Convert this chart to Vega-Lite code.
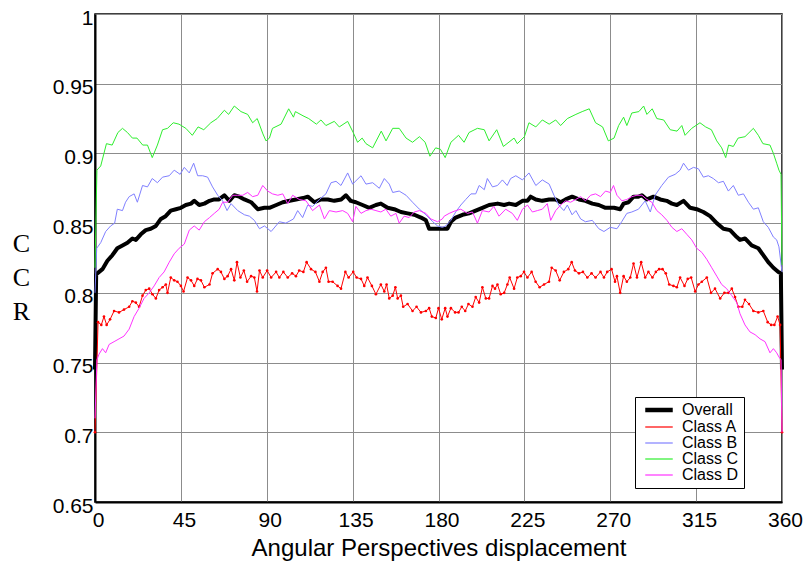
{
"$schema":"https://vega.github.io/schema/vega-lite/v6.json",
"width":687,"height":488,
"autosize":"none",
"padding":{"left":95,"top":14,"right":25,"bottom":63},
"background":"white",
"config":{"font":"Liberation Sans","view":{"stroke":"black","strokeWidth":1.5},
 "axis":{"labelFont":"Liberation Sans","labelFontSize":21,"labelColor":"black","domainColor":"black","domainWidth":2,"ticks":false,"gridColor":"#8c8c8c","gridWidth":1,"gridOpacity":1}},
"datasets":{
"ov":[{"x":0,"y":0.745},{"x":0.6,"y":0.813},{"x":1.2,"y":0.814},{"x":3.9,"y":0.817},{"x":6.5,"y":0.823},{"x":9.1,"y":0.827},{"x":11.7,"y":0.832},{"x":14.4,"y":0.834},{"x":17,"y":0.836},{"x":19.6,"y":0.839},{"x":21.4,"y":0.838},{"x":24,"y":0.842},{"x":26.6,"y":0.845},{"x":29.2,"y":0.846},{"x":31.9,"y":0.848},{"x":34.5,"y":0.853},{"x":37,"y":0.855},{"x":39.7,"y":0.859},{"x":42.4,"y":0.86},{"x":45,"y":0.861},{"x":47.6,"y":0.863},{"x":50.3,"y":0.864},{"x":52,"y":0.866},{"x":54.6,"y":0.863},{"x":57.3,"y":0.864},{"x":60,"y":0.866},{"x":62.5,"y":0.867},{"x":65,"y":0.867},{"x":67.8,"y":0.87},{"x":70.4,"y":0.866},{"x":73,"y":0.87},{"x":75.6,"y":0.869},{"x":78.3,"y":0.867},{"x":81.8,"y":0.865},{"x":85.3,"y":0.86},{"x":88.8,"y":0.861},{"x":91.4,"y":0.861},{"x":95,"y":0.863},{"x":98.4,"y":0.865},{"x":102,"y":0.866},{"x":105.3,"y":0.867},{"x":109,"y":0.868},{"x":111.5,"y":0.869},{"x":115,"y":0.865},{"x":118.4,"y":0.867},{"x":122,"y":0.867},{"x":125.4,"y":0.866},{"x":129,"y":0.867},{"x":131.5,"y":0.87},{"x":134,"y":0.866},{"x":136.7,"y":0.865},{"x":140.2,"y":0.863},{"x":143.7,"y":0.861},{"x":147.2,"y":0.863},{"x":149.8,"y":0.864},{"x":153.3,"y":0.861},{"x":156.8,"y":0.86},{"x":160.3,"y":0.858},{"x":163.8,"y":0.857},{"x":167.3,"y":0.856},{"x":170.8,"y":0.854},{"x":173.4,"y":0.852},{"x":175.1,"y":0.846},{"x":178.6,"y":0.846},{"x":182,"y":0.846},{"x":184.7,"y":0.846},{"x":186.5,"y":0.851},{"x":189,"y":0.854},{"x":192.6,"y":0.856},{"x":196,"y":0.857},{"x":199.5,"y":0.859},{"x":203,"y":0.861},{"x":206.5,"y":0.863},{"x":211,"y":0.864},{"x":214.4,"y":0.863},{"x":217,"y":0.864},{"x":220.5,"y":0.863},{"x":224,"y":0.866},{"x":226.6,"y":0.866},{"x":228.3,"y":0.869},{"x":231,"y":0.867},{"x":234.4,"y":0.866},{"x":238,"y":0.867},{"x":241.4,"y":0.867},{"x":244,"y":0.865},{"x":246.6,"y":0.867},{"x":250,"y":0.869},{"x":253.6,"y":0.867},{"x":257,"y":0.866},{"x":260.6,"y":0.864},{"x":264,"y":0.863},{"x":267.5,"y":0.861},{"x":272,"y":0.861},{"x":275.2,"y":0.86},{"x":277,"y":0.864},{"x":279.6,"y":0.865},{"x":282.2,"y":0.869},{"x":284.8,"y":0.869},{"x":286.6,"y":0.87},{"x":289.2,"y":0.867},{"x":292.7,"y":0.869},{"x":296.2,"y":0.867},{"x":299.6,"y":0.866},{"x":302.3,"y":0.864},{"x":304.9,"y":0.863},{"x":308.4,"y":0.866},{"x":311.9,"y":0.861},{"x":315.3,"y":0.86},{"x":318.8,"y":0.858},{"x":322.3,"y":0.855},{"x":325.8,"y":0.85},{"x":329.3,"y":0.846},{"x":332.8,"y":0.845},{"x":336.3,"y":0.84},{"x":338,"y":0.838},{"x":340.6,"y":0.839},{"x":344.1,"y":0.834},{"x":347.6,"y":0.832},{"x":350.2,"y":0.827},{"x":352.8,"y":0.822},{"x":355.5,"y":0.818},{"x":358.1,"y":0.815},{"x":359.4,"y":0.814},{"x":360,"y":0.745}],
"a":[{"x":0,"y":0.7},{"x":1.6,"y":0.779},{"x":3.3,"y":0.777},{"x":4.7,"y":0.783},{"x":6.1,"y":0.777},{"x":7.9,"y":0.781},{"x":10,"y":0.787},{"x":12.6,"y":0.786},{"x":15.2,"y":0.788},{"x":17.9,"y":0.79},{"x":19.6,"y":0.794},{"x":21.4,"y":0.793},{"x":23.1,"y":0.79},{"x":24.9,"y":0.798},{"x":26.6,"y":0.802},{"x":28.4,"y":0.803},{"x":30.1,"y":0.799},{"x":31.9,"y":0.796},{"x":33.6,"y":0.802},{"x":35.4,"y":0.804},{"x":37.1,"y":0.806},{"x":38,"y":0.8},{"x":39.7,"y":0.811},{"x":41.5,"y":0.809},{"x":43.2,"y":0.808},{"x":45,"y":0.805},{"x":46.4,"y":0.801},{"x":48.5,"y":0.811},{"x":50.3,"y":0.809},{"x":52,"y":0.805},{"x":53.7,"y":0.81},{"x":55.5,"y":0.809},{"x":57.3,"y":0.804},{"x":60,"y":0.806},{"x":61.6,"y":0.814},{"x":64.3,"y":0.817},{"x":66,"y":0.815},{"x":67.8,"y":0.81},{"x":69.5,"y":0.812},{"x":71.3,"y":0.817},{"x":73,"y":0.809},{"x":74.4,"y":0.822},{"x":76.2,"y":0.811},{"x":78,"y":0.816},{"x":79.7,"y":0.808},{"x":81.8,"y":0.812},{"x":83.5,"y":0.811},{"x":84.9,"y":0.801},{"x":86.2,"y":0.816},{"x":87.9,"y":0.811},{"x":90.2,"y":0.816},{"x":92.3,"y":0.811},{"x":94.9,"y":0.815},{"x":96.6,"y":0.811},{"x":98.7,"y":0.815},{"x":101,"y":0.811},{"x":103.3,"y":0.814},{"x":105.3,"y":0.812},{"x":107,"y":0.816},{"x":109.2,"y":0.815},{"x":110.9,"y":0.822},{"x":113.2,"y":0.817},{"x":115.5,"y":0.815},{"x":117.6,"y":0.808},{"x":119.3,"y":0.815},{"x":121,"y":0.818},{"x":122.4,"y":0.808},{"x":124.5,"y":0.808},{"x":127.1,"y":0.805},{"x":128.9,"y":0.803},{"x":131.2,"y":0.815},{"x":132.9,"y":0.811},{"x":135.3,"y":0.815},{"x":137.1,"y":0.811},{"x":139.4,"y":0.81},{"x":141.1,"y":0.805},{"x":142.8,"y":0.811},{"x":145.1,"y":0.805},{"x":147.2,"y":0.799},{"x":149.8,"y":0.806},{"x":151.6,"y":0.801},{"x":152.8,"y":0.806},{"x":154.2,"y":0.796},{"x":156,"y":0.798},{"x":157.4,"y":0.804},{"x":158.6,"y":0.796},{"x":160.3,"y":0.798},{"x":161.5,"y":0.79},{"x":163.8,"y":0.792},{"x":166.4,"y":0.787},{"x":168.5,"y":0.79},{"x":170.8,"y":0.786},{"x":173.4,"y":0.787},{"x":175.1,"y":0.789},{"x":176.5,"y":0.783},{"x":178.6,"y":0.782},{"x":180,"y":0.789},{"x":181.7,"y":0.781},{"x":183.5,"y":0.789},{"x":184.7,"y":0.783},{"x":186.5,"y":0.789},{"x":188.7,"y":0.786},{"x":190.5,"y":0.786},{"x":192.2,"y":0.79},{"x":194,"y":0.787},{"x":195.7,"y":0.792},{"x":197.8,"y":0.79},{"x":199.5,"y":0.797},{"x":201.3,"y":0.793},{"x":203,"y":0.804},{"x":204.8,"y":0.796},{"x":206.5,"y":0.796},{"x":208.3,"y":0.805},{"x":209.6,"y":0.803},{"x":210.9,"y":0.806},{"x":212.6,"y":0.799},{"x":214.4,"y":0.8},{"x":216.1,"y":0.806},{"x":217.3,"y":0.811},{"x":219.6,"y":0.803},{"x":221.3,"y":0.811},{"x":223.1,"y":0.812},{"x":224.8,"y":0.815},{"x":226.6,"y":0.811},{"x":228.8,"y":0.815},{"x":230.9,"y":0.808},{"x":233,"y":0.804},{"x":235.3,"y":0.806},{"x":237.9,"y":0.808},{"x":239.3,"y":0.818},{"x":241.4,"y":0.816},{"x":243.5,"y":0.809},{"x":245.7,"y":0.815},{"x":248,"y":0.817},{"x":249.8,"y":0.822},{"x":251.5,"y":0.816},{"x":253.6,"y":0.814},{"x":255.7,"y":0.815},{"x":258,"y":0.811},{"x":260.2,"y":0.814},{"x":262.3,"y":0.811},{"x":264.9,"y":0.815},{"x":266.7,"y":0.811},{"x":268.4,"y":0.815},{"x":270.7,"y":0.817},{"x":272.5,"y":0.808},{"x":273.5,"y":0.812},{"x":275.2,"y":0.8},{"x":277,"y":0.812},{"x":278.7,"y":0.808},{"x":280.5,"y":0.811},{"x":282.2,"y":0.821},{"x":284,"y":0.811},{"x":286.2,"y":0.822},{"x":288.3,"y":0.811},{"x":290,"y":0.815},{"x":292.1,"y":0.811},{"x":293.9,"y":0.815},{"x":295.6,"y":0.817},{"x":297.4,"y":0.817},{"x":299.1,"y":0.814},{"x":300.9,"y":0.806},{"x":303.1,"y":0.805},{"x":304.9,"y":0.804},{"x":306.6,"y":0.811},{"x":308.9,"y":0.805},{"x":310.6,"y":0.81},{"x":312.4,"y":0.811},{"x":314.5,"y":0.801},{"x":316.2,"y":0.806},{"x":318,"y":0.808},{"x":320.6,"y":0.811},{"x":322.8,"y":0.8},{"x":324.9,"y":0.803},{"x":327.6,"y":0.796},{"x":329.8,"y":0.8},{"x":331.9,"y":0.8},{"x":333.7,"y":0.803},{"x":335.4,"y":0.797},{"x":337.1,"y":0.79},{"x":339.2,"y":0.79},{"x":340.6,"y":0.795},{"x":342.7,"y":0.792},{"x":345,"y":0.787},{"x":347.6,"y":0.786},{"x":350.2,"y":0.787},{"x":352.5,"y":0.779},{"x":354.3,"y":0.777},{"x":356,"y":0.777},{"x":357.7,"y":0.783},{"x":359,"y":0.777},{"x":360,"y":0.7}],
"b":[{"x":0,"y":0.8},{"x":0.9,"y":0.832},{"x":3,"y":0.836},{"x":5.6,"y":0.844},{"x":8.2,"y":0.848},{"x":10.3,"y":0.85},{"x":11.7,"y":0.86},{"x":14.4,"y":0.859},{"x":16,"y":0.865},{"x":17.9,"y":0.869},{"x":20.5,"y":0.871},{"x":22.2,"y":0.865},{"x":24.9,"y":0.877},{"x":27.5,"y":0.876},{"x":30,"y":0.882},{"x":32.7,"y":0.879},{"x":35.4,"y":0.883},{"x":38.9,"y":0.884},{"x":41.5,"y":0.888},{"x":44.6,"y":0.885},{"x":46.8,"y":0.89},{"x":49.4,"y":0.886},{"x":51.7,"y":0.893},{"x":53.8,"y":0.884},{"x":56.4,"y":0.884},{"x":59,"y":0.883},{"x":61.6,"y":0.876},{"x":64.3,"y":0.87},{"x":66.9,"y":0.866},{"x":69.2,"y":0.859},{"x":71.3,"y":0.864},{"x":74.8,"y":0.859},{"x":78.3,"y":0.856},{"x":80.9,"y":0.855},{"x":83.5,"y":0.852},{"x":86.2,"y":0.846},{"x":88.8,"y":0.848},{"x":92.3,"y":0.844},{"x":96.6,"y":0.851},{"x":100,"y":0.85},{"x":104,"y":0.853},{"x":106.2,"y":0.859},{"x":108.8,"y":0.854},{"x":111.5,"y":0.863},{"x":114,"y":0.862},{"x":117.6,"y":0.867},{"x":121,"y":0.871},{"x":123.7,"y":0.879},{"x":126.3,"y":0.88},{"x":128.9,"y":0.877},{"x":132.4,"y":0.886},{"x":135,"y":0.878},{"x":139.4,"y":0.884},{"x":142,"y":0.878},{"x":145.5,"y":0.879},{"x":149,"y":0.875},{"x":151.6,"y":0.882},{"x":154.2,"y":0.878},{"x":156,"y":0.872},{"x":159.4,"y":0.873},{"x":163,"y":0.87},{"x":166.4,"y":0.865},{"x":170,"y":0.86},{"x":173.4,"y":0.856},{"x":177,"y":0.851},{"x":179.5,"y":0.848},{"x":182,"y":0.847},{"x":183.8,"y":0.848},{"x":186.5,"y":0.852},{"x":189,"y":0.858},{"x":191.7,"y":0.863},{"x":194.3,"y":0.867},{"x":197,"y":0.871},{"x":199.5,"y":0.871},{"x":201.3,"y":0.877},{"x":204,"y":0.874},{"x":205.6,"y":0.882},{"x":208.3,"y":0.876},{"x":210.9,"y":0.877},{"x":213.5,"y":0.881},{"x":216,"y":0.877},{"x":217.8,"y":0.882},{"x":220.5,"y":0.884},{"x":224,"y":0.881},{"x":227.4,"y":0.886},{"x":231,"y":0.877},{"x":234.4,"y":0.881},{"x":238,"y":0.878},{"x":240.5,"y":0.87},{"x":243,"y":0.863},{"x":245.7,"y":0.859},{"x":247.5,"y":0.863},{"x":250,"y":0.856},{"x":252,"y":0.859},{"x":254.5,"y":0.853},{"x":257,"y":0.851},{"x":260.6,"y":0.852},{"x":264,"y":0.846},{"x":266.7,"y":0.844},{"x":270,"y":0.847},{"x":273.5,"y":0.846},{"x":276,"y":0.851},{"x":278.7,"y":0.857},{"x":281.3,"y":0.858},{"x":284.8,"y":0.86},{"x":288.3,"y":0.866},{"x":291,"y":0.858},{"x":293.5,"y":0.87},{"x":297,"y":0.877},{"x":300.5,"y":0.883},{"x":304,"y":0.885},{"x":306.6,"y":0.888},{"x":308.4,"y":0.893},{"x":311,"y":0.888},{"x":313.6,"y":0.89},{"x":316.2,"y":0.889},{"x":318.8,"y":0.883},{"x":321.4,"y":0.884},{"x":324,"y":0.882},{"x":326.7,"y":0.879},{"x":329.3,"y":0.88},{"x":331.9,"y":0.873},{"x":334.5,"y":0.877},{"x":337.1,"y":0.87},{"x":339.8,"y":0.871},{"x":342.4,"y":0.865},{"x":345,"y":0.86},{"x":347.6,"y":0.861},{"x":350.2,"y":0.851},{"x":352.8,"y":0.847},{"x":355.5,"y":0.84},{"x":357.2,"y":0.838},{"x":358.4,"y":0.833},{"x":360,"y":0.815}],
"c":[{"x":0,"y":0.818},{"x":1,"y":0.888},{"x":3,"y":0.891},{"x":6,"y":0.907},{"x":9,"y":0.906},{"x":12,"y":0.915},{"x":14.4,"y":0.918},{"x":17,"y":0.915},{"x":19.6,"y":0.911},{"x":22,"y":0.911},{"x":25,"y":0.906},{"x":27.5,"y":0.906},{"x":30,"y":0.897},{"x":32.7,"y":0.906},{"x":35.4,"y":0.917},{"x":38,"y":0.918},{"x":41,"y":0.922},{"x":44,"y":0.921},{"x":47.6,"y":0.918},{"x":51,"y":0.913},{"x":54,"y":0.919},{"x":57,"y":0.917},{"x":60.7,"y":0.922},{"x":64,"y":0.925},{"x":67.8,"y":0.931},{"x":70,"y":0.928},{"x":73,"y":0.934},{"x":76.5,"y":0.93},{"x":80,"y":0.928},{"x":82.6,"y":0.922},{"x":85,"y":0.925},{"x":88,"y":0.914},{"x":89.6,"y":0.909},{"x":91.4,"y":0.911},{"x":93,"y":0.918},{"x":97.5,"y":0.921},{"x":101.5,"y":0.932},{"x":104,"y":0.926},{"x":105,"y":0.93},{"x":109,"y":0.927},{"x":112,"y":0.925},{"x":116,"y":0.921},{"x":118.4,"y":0.924},{"x":121,"y":0.92},{"x":125.4,"y":0.923},{"x":128,"y":0.919},{"x":132.4,"y":0.923},{"x":135.3,"y":0.915},{"x":137.6,"y":0.908},{"x":140,"y":0.911},{"x":142,"y":0.907},{"x":145.5,"y":0.904},{"x":150,"y":0.916},{"x":152.5,"y":0.909},{"x":156,"y":0.918},{"x":159.4,"y":0.918},{"x":163,"y":0.911},{"x":166.4,"y":0.908},{"x":170,"y":0.912},{"x":173,"y":0.908},{"x":175.5,"y":0.898},{"x":178.5,"y":0.904},{"x":181,"y":0.903},{"x":183.5,"y":0.897},{"x":186.5,"y":0.908},{"x":190.5,"y":0.913},{"x":193.4,"y":0.908},{"x":196,"y":0.915},{"x":200.4,"y":0.918},{"x":204,"y":0.917},{"x":206.5,"y":0.909},{"x":210.5,"y":0.917},{"x":214,"y":0.905},{"x":219.6,"y":0.911},{"x":221.3,"y":0.907},{"x":225,"y":0.912},{"x":227.4,"y":0.922},{"x":231,"y":0.919},{"x":234.4,"y":0.924},{"x":238,"y":0.921},{"x":241.4,"y":0.924},{"x":244,"y":0.92},{"x":247.5,"y":0.925},{"x":252,"y":0.928},{"x":255.3,"y":0.93},{"x":259,"y":0.932},{"x":262.3,"y":0.922},{"x":266,"y":0.919},{"x":269,"y":0.909},{"x":272,"y":0.911},{"x":274.4,"y":0.92},{"x":277,"y":0.926},{"x":278.7,"y":0.92},{"x":281.3,"y":0.929},{"x":285,"y":0.93},{"x":287.5,"y":0.934},{"x":289.2,"y":0.928},{"x":292,"y":0.932},{"x":294.4,"y":0.925},{"x":298,"y":0.924},{"x":301.4,"y":0.917},{"x":305,"y":0.916},{"x":307.5,"y":0.92},{"x":309.2,"y":0.913},{"x":312.7,"y":0.918},{"x":317,"y":0.922},{"x":320,"y":0.919},{"x":323,"y":0.917},{"x":325.8,"y":0.909},{"x":328.4,"y":0.904},{"x":330.5,"y":0.897},{"x":332,"y":0.906},{"x":334.5,"y":0.905},{"x":337,"y":0.911},{"x":340.6,"y":0.912},{"x":345,"y":0.918},{"x":347.6,"y":0.913},{"x":350,"y":0.907},{"x":353.7,"y":0.906},{"x":355.5,"y":0.9},{"x":357.2,"y":0.893},{"x":358.4,"y":0.888},{"x":359.5,"y":0.885},{"x":360,"y":0.82}],
"d":[{"x":0,"y":0.71},{"x":1,"y":0.752},{"x":2.1,"y":0.756},{"x":3.9,"y":0.76},{"x":5.6,"y":0.757},{"x":7.4,"y":0.763},{"x":10,"y":0.765},{"x":12.6,"y":0.767},{"x":15.2,"y":0.769},{"x":17.9,"y":0.774},{"x":20.5,"y":0.783},{"x":23.1,"y":0.789},{"x":25.7,"y":0.796},{"x":28.4,"y":0.8},{"x":31,"y":0.805},{"x":33.6,"y":0.811},{"x":36.2,"y":0.815},{"x":38.9,"y":0.822},{"x":41.5,"y":0.828},{"x":44.1,"y":0.832},{"x":46.8,"y":0.835},{"x":49.4,"y":0.845},{"x":52,"y":0.848},{"x":54.6,"y":0.845},{"x":57.3,"y":0.851},{"x":60,"y":0.854},{"x":62.5,"y":0.857},{"x":65.1,"y":0.86},{"x":66.9,"y":0.865},{"x":69.5,"y":0.865},{"x":72.2,"y":0.87},{"x":74.8,"y":0.87},{"x":77.4,"y":0.87},{"x":80,"y":0.872},{"x":82.6,"y":0.869},{"x":85.3,"y":0.87},{"x":87.9,"y":0.877},{"x":90.5,"y":0.873},{"x":93,"y":0.871},{"x":95.8,"y":0.87},{"x":98.4,"y":0.871},{"x":101,"y":0.864},{"x":103.6,"y":0.87},{"x":107,"y":0.867},{"x":110.6,"y":0.866},{"x":114,"y":0.859},{"x":117.6,"y":0.863},{"x":120.2,"y":0.853},{"x":122.8,"y":0.859},{"x":126.3,"y":0.858},{"x":129.8,"y":0.859},{"x":132.4,"y":0.857},{"x":135,"y":0.851},{"x":136.7,"y":0.862},{"x":139.4,"y":0.857},{"x":142,"y":0.859},{"x":144.6,"y":0.86},{"x":147.2,"y":0.859},{"x":149.8,"y":0.858},{"x":152.4,"y":0.86},{"x":155,"y":0.855},{"x":157.7,"y":0.857},{"x":159.4,"y":0.85},{"x":162,"y":0.855},{"x":164.6,"y":0.854},{"x":167.3,"y":0.858},{"x":170,"y":0.859},{"x":173.4,"y":0.857},{"x":176,"y":0.853},{"x":179.5,"y":0.851},{"x":182,"y":0.853},{"x":183,"y":0.855},{"x":185.6,"y":0.857},{"x":189,"y":0.859},{"x":191.7,"y":0.86},{"x":195.2,"y":0.857},{"x":197.8,"y":0.858},{"x":200.4,"y":0.85},{"x":203,"y":0.859},{"x":206.5,"y":0.858},{"x":209,"y":0.862},{"x":211.7,"y":0.855},{"x":215.2,"y":0.86},{"x":218.7,"y":0.857},{"x":221.3,"y":0.852},{"x":224,"y":0.86},{"x":226.6,"y":0.863},{"x":229.2,"y":0.858},{"x":231.8,"y":0.859},{"x":234.4,"y":0.86},{"x":237,"y":0.864},{"x":238.8,"y":0.852},{"x":241.4,"y":0.859},{"x":244,"y":0.863},{"x":246.6,"y":0.866},{"x":249.2,"y":0.865},{"x":251.9,"y":0.867},{"x":254.5,"y":0.869},{"x":257,"y":0.866},{"x":259.7,"y":0.87},{"x":262.3,"y":0.871},{"x":264.9,"y":0.869},{"x":267.5,"y":0.873},{"x":270,"y":0.872},{"x":271.7,"y":0.877},{"x":273.5,"y":0.87},{"x":276.1,"y":0.866},{"x":278.7,"y":0.867},{"x":281.3,"y":0.869},{"x":284,"y":0.87},{"x":286.6,"y":0.87},{"x":289.2,"y":0.867},{"x":291.8,"y":0.865},{"x":294.4,"y":0.859},{"x":297,"y":0.856},{"x":299.7,"y":0.852},{"x":302.3,"y":0.847},{"x":304.9,"y":0.844},{"x":307.5,"y":0.846},{"x":310.1,"y":0.842},{"x":312.7,"y":0.838},{"x":315.3,"y":0.832},{"x":318,"y":0.829},{"x":320.6,"y":0.824},{"x":323.2,"y":0.818},{"x":325.8,"y":0.812},{"x":328.4,"y":0.806},{"x":331,"y":0.803},{"x":333.7,"y":0.798},{"x":336.3,"y":0.793},{"x":338,"y":0.785},{"x":340.6,"y":0.777},{"x":343.2,"y":0.772},{"x":345.9,"y":0.77},{"x":348.5,"y":0.767},{"x":351.1,"y":0.765},{"x":353.7,"y":0.757},{"x":355.5,"y":0.76},{"x":357.2,"y":0.757},{"x":358.4,"y":0.754},{"x":359.5,"y":0.752},{"x":360,"y":0.7}]
},
"encoding":{
 "x":{"field":"x","type":"quantitative","scale":{"domain":[0,360],"nice":false,"zero":false},
  "axis":{"values":[0,45,90,135,180,225,270,315,360],"title":"Angular Perspectives displacement","titleFontSize":24,"titleFontWeight":"normal","titleColor":"black","titlePadding":6,"labelPadding":7,"labelOffset":3,"labelFlush":false}},
 "y":{"field":"y","type":"quantitative","scale":{"domain":[0.65,1],"nice":false,"zero":false},
  "axis":{"values":[0.65,0.7,0.75,0.8,0.85,0.9,0.95,1],"format":".2~f","title":["C","C","R"],"titleFont":"Liberation Serif","titleFontSize":26,"titleFontWeight":"normal","titleColor":"black","titleAngle":0,"titleAlign":"center","titleBaseline":"middle","titleX":-74,"titleY":229,"titleLineHeight":34,"labelPadding":2,"labelOffset":4}}
},
"resolve":{"scale":{"color":"shared"}},
"layer":[
 {"data":{"name":"ov"},"mark":{"type":"line","strokeJoin":"round","strokeWidth":4},
  "encoding":{"color":{"datum":"Overall","type":"nominal","scale":{"domain":["Overall","Class A","Class B","Class C","Class D"],"range":["#000000","#ff0000","#8080ff","#2eee2e","#ff33ff"]},
   "legend":{"title":null,"orient":"none","legendX":540,"legendY":383,"strokeColor":"black","fillColor":"white","padding":5,"labelFontSize":16,"labelFont":"Liberation Sans","labelColor":"black","symbolType":"M-2.5,0H2.5","symbolSize":121,"symbolOffset":11,"labelOffset":15,"rowPadding":0,
    "encode":{"symbols":{"update":{"strokeWidth":{"signal":"datum.value === 'Overall' ? 4.5 : 1.2"}}}}}}}},
 {"data":{"name":"a"},"mark":{"type":"line","strokeWidth":1},"encoding":{"color":{"datum":"Class A","type":"nominal"}}},
 {"data":{"name":"a"},"mark":{"type":"point","filled":true,"size":7,"opacity":1,"strokeWidth":0},"encoding":{"color":{"datum":"Class A","type":"nominal"}}},
 {"data":{"name":"b"},"mark":{"type":"line","strokeWidth":1},"encoding":{"color":{"datum":"Class B","type":"nominal"}}},
 {"data":{"name":"c"},"mark":{"type":"line","strokeWidth":1},"encoding":{"color":{"datum":"Class C","type":"nominal"}}},
 {"data":{"name":"d"},"mark":{"type":"line","strokeWidth":1},"encoding":{"color":{"datum":"Class D","type":"nominal"}}}
]
}
